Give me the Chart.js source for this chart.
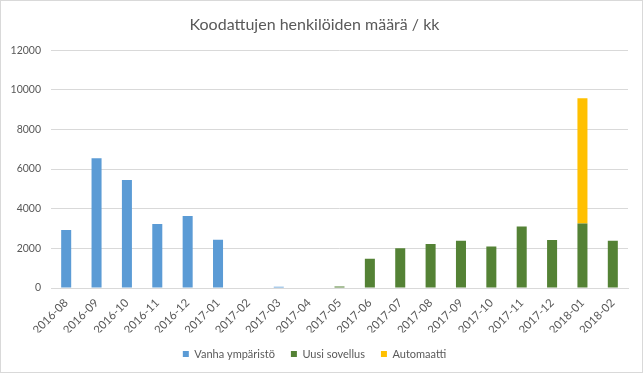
<!DOCTYPE html>
<html>
<head>
<meta charset="utf-8">
<script src="https://cdn.jsdelivr.net/npm/chart.js@4.4.0/dist/chart.umd.min.js"></script>
<style>
  html, body { margin: 0; padding: 0; background: #ffffff; }
  #wrap { width: 644px; height: 374px; position: relative; }
  canvas { display: block; }
</style>
</head>
<body>
<div id="wrap"><canvas id="c" width="644" height="374"></canvas></div>
<script>
const months = ['2016-08','2016-09','2016-10','2016-11','2016-12','2017-01','2017-02','2017-03','2017-04','2017-05','2017-06','2017-07','2017-08','2017-09','2017-10','2017-11','2017-12','2018-01','2018-02'];
const vanhaYmparisto = [2930, 6550, 5450, 3230, 3630, 2430, 0, 60, 0, 0, 0, 0, 0, 0, 0, 0, 0, 0, 0];
const uusiSovellus   = [0, 0, 0, 0, 0, 0, 0, 0, 0, 80, 1480, 2000, 2220, 2380, 2100, 3100, 2420, 3260, 2390];
const automaatti     = [0, 0, 0, 0, 0, 0, 0, 0, 0, 0, 0, 0, 0, 0, 0, 0, 0, 6320, 0];
const yTicks = [0, 2000, 4000, 6000, 8000, 10000, 12000];

const FONT = 'Lato, "Open Sans", sans-serif';
const TXT = '#595959';

const frame = {
  id: 'frame',
  beforeDraw(chart) {
    const ctx = chart.ctx;
    ctx.save();
    ctx.fillStyle = '#ffffff';
    ctx.fillRect(0, 0, chart.width, chart.height);
    ctx.strokeStyle = '#d9d9d9';
    ctx.lineWidth = 1;
    ctx.strokeRect(0.5, 0.5, 642, 372);
    ctx.restore();
  }
};

new Chart(document.getElementById('c'), {
  type: 'bar',
  data: {
    labels: months,
    datasets: [
      { label: 'Vanha ympäristö', data: vanhaYmparisto, backgroundColor: '#5B9BD5' },
      { label: 'Uusi sovellus', data: uusiSovellus, backgroundColor: '#548235' },
      { label: 'Automaatti', data: automaatti, backgroundColor: '#FFC000' }
    ]
  },
  options: {
    responsive: false,
    animation: false,
    devicePixelRatio: 1,
    layout: { padding: { left: 1, right: 16, top: 0, bottom: 4.5 } },
    datasets: { bar: { categoryPercentage: 1, barPercentage: 0.33 } },
    plugins: {
      title: {
        display: true,
        text: 'Koodattujen henkilöiden määrä / kk',
        color: TXT,
        font: { family: FONT, size: 16, weight: 'normal' },
        padding: { top: 15, bottom: 16 }
      },
      legend: {
        position: 'bottom',
        labels: {
          color: TXT,
          font: { family: FONT, size: 11 },
          boxWidth: 6,
          boxHeight: 6,
          padding: 16
        }
      },
      tooltip: { enabled: false }
    },
    scales: {
      x: {
        stacked: true,
        grid: { display: false, drawTicks: false },
        border: { display: true, color: '#d9d9d9' },
        ticks: {
          color: TXT,
          font: { family: FONT, size: 11.5 },
          maxRotation: 45,
          minRotation: 45,
          padding: 8,
          autoSkip: false
        },
        afterFit(scale) { scale.height = 44.5; }
      },
      y: {
        stacked: true,
        min: 0,
        max: 12000,
        afterBuildTicks(scale) { scale.ticks = yTicks.map(v => ({ value: v })); },
        grid: { color: '#d9d9d9', drawTicks: false },
        border: { display: false },
        ticks: {
          color: TXT,
          font: { family: FONT, size: 10.5 },
          padding: 10,
          callback: (v) => String(v)
        },
        afterFit(scale) { scale.width = 50; }
      }
    }
  },
  plugins: [frame]
});
</script>
</body>
</html>
